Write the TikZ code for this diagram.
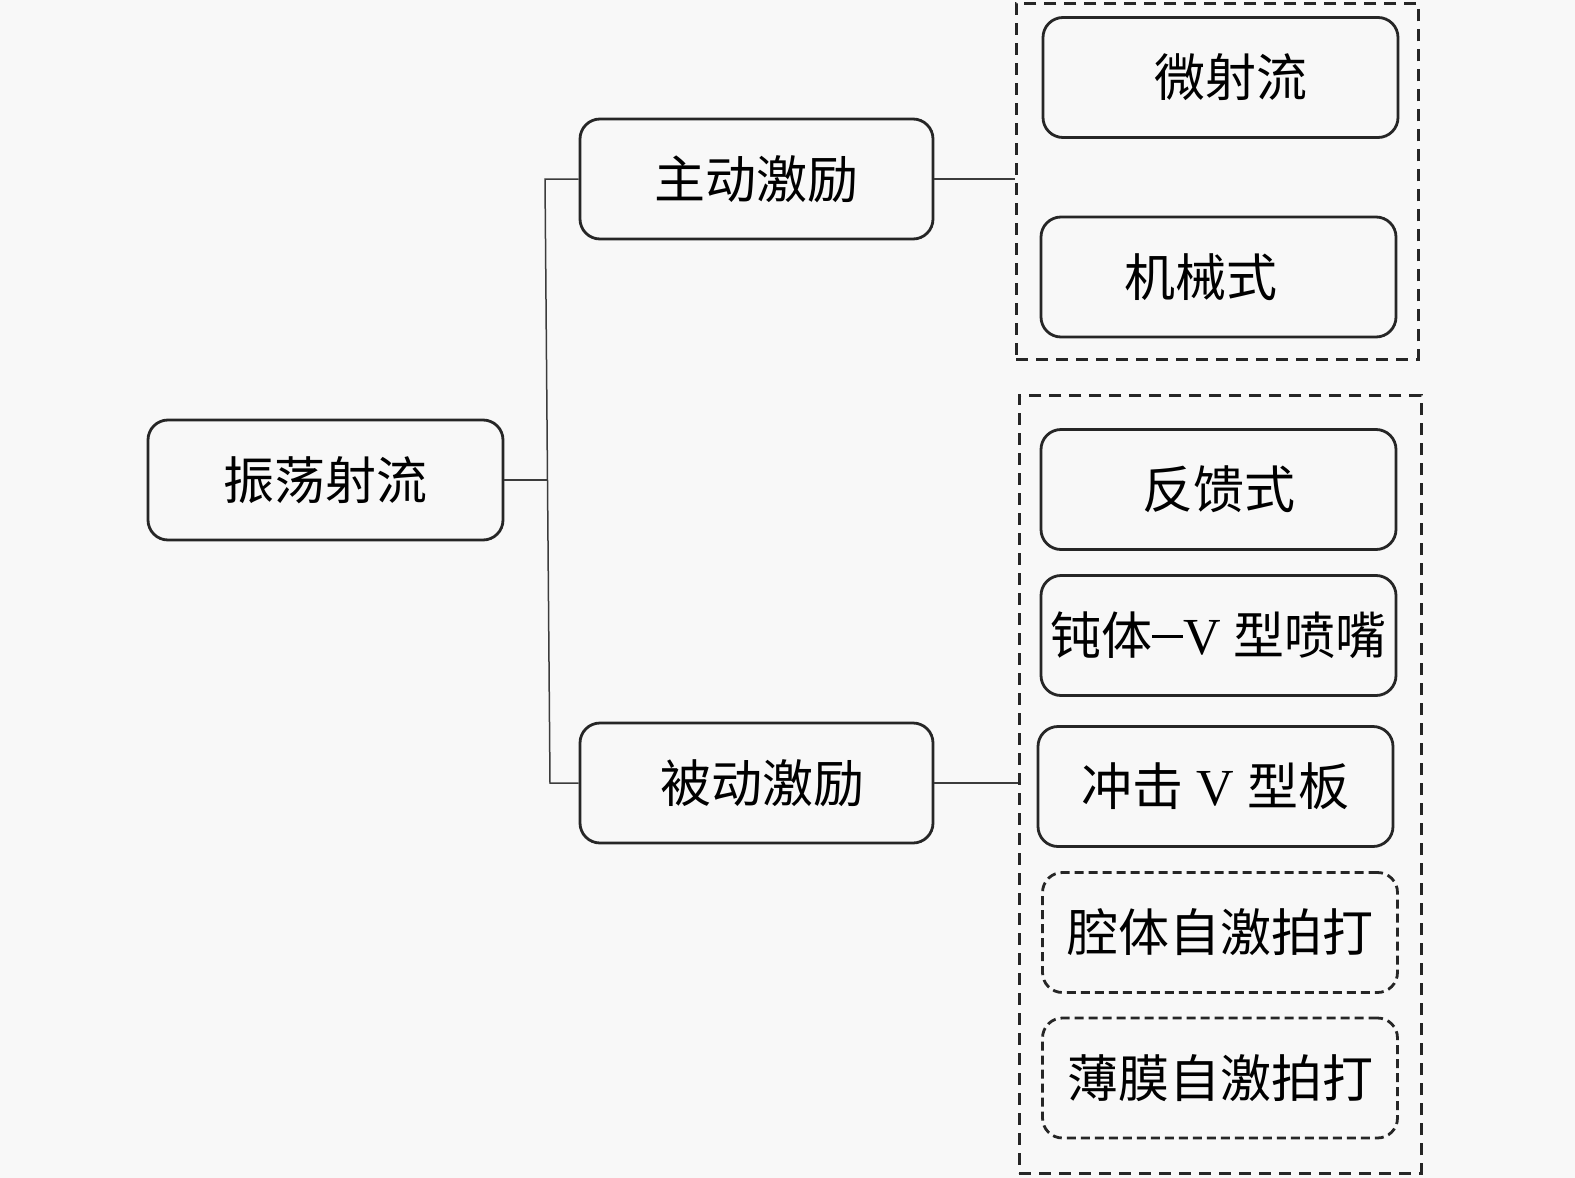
\documentclass[tikz,border=0pt]{standalone}
\usepackage{fontspec}
\setmainfont{Liberation Serif}
\newfontfamily\cjk{Noto Sans CJK SC}
\definecolor{bgc}{RGB}{248,248,248}
\definecolor{linec}{RGB}{60,60,60}
\newcommand{\lat}[1]{{\rmfamily\fontsize{52}{58}\selectfont #1}}
\begin{document}
\begin{tikzpicture}[x=1pt,y=-1pt,
  box/.style={draw=black!85,line width=2.8pt,rounded corners=20pt,minimum width=355pt,minimum height=120pt,inner sep=0pt,font=\cjk\fontsize{51}{58}\selectfont,anchor=center},
  dbox/.style={box,dashed,dash pattern=on 9pt off 5pt},
  group/.style={draw=black!85,line width=2.8pt,dash pattern=on 12pt off 8pt},
  conn/.style={draw=linec,line width=1.5pt}]
\fill[bgc] (0,0) rectangle (1575,1178);
\useasboundingbox (0,0) rectangle (1575,1178);
% groups
\node[group,minimum width=402pt,minimum height=356pt,anchor=north west,inner sep=0pt] (g1) at (1015,2) {};
\node[group,minimum width=402pt,minimum height=778pt,anchor=north west,inner sep=0pt] (g2) at (1018,394) {};
% boxes
\node[box] (root) at (325.5,480) {振荡射流};
\node[box,minimum width=353pt] (act) at (756.5,179) {主动激励};
\node[box,minimum width=353pt] (pas) at (756.5,783) {\hspace*{12pt}被动激励};
\node[box] (mic) at (1220.5,77.5) {\hspace*{20pt}微射流};
\node[box] (mech) at (1218.5,277) {机械式\hspace*{36pt}};
\node[box] (fb) at (1218.5,489.5) {反馈式};
\node[box] (blunt) at (1218.5,635.5) {钝体\lat{\rule[17pt]{0.6em}{2.5pt}V }型喷嘴};
\node[box] (imp) at (1215.5,786.5) {冲击\lat{ V }型板};
\node[dbox] (cav) at (1220,932.5) {腔体自激拍打};
\node[dbox] (film) at (1220,1078) {薄膜自激拍打};
% connectors
\coordinate (j0) at (548,480);
\coordinate (jt) at (545,179);
\coordinate (jb) at (550,783);
\draw[conn] (root.east) -- (j0);
\draw[conn] (act.west) -- (jt) -- (jb) -- (pas.west);
\draw[conn] (act.east) -- (act.east -| g1.west);
\draw[conn] (pas.east) -- (pas.east -| g2.west);
\end{tikzpicture}
\end{document}
